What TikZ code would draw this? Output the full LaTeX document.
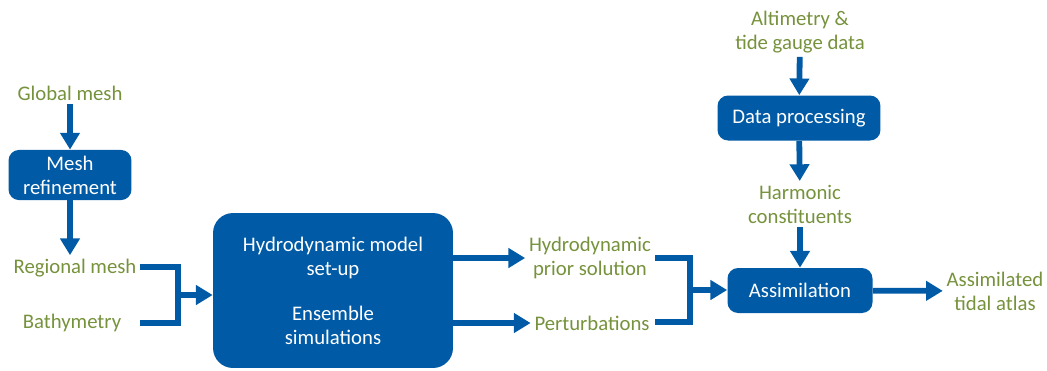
\documentclass[tikz,border=0pt]{standalone}
\usepackage{fontspec}
\setmainfont{Carlito}
\usetikzlibrary{positioning,arrows.meta}
\definecolor{boxblue}{RGB}{0,90,165}
\definecolor{txtgreen}{RGB}{118,146,60}

\begin{document}
\begin{tikzpicture}[x=0.02cm, y=-0.02cm,
    main/.style = {fill=boxblue, rounded corners=6pt, text=white, align=center, font=\fontsize{11.8}{13.6}\selectfont},
    lbl/.style = {text=txtgreen, align=center, inner sep=2pt, font=\fontsize{11.8}{13.6}\selectfont},
    link/.style = {draw=boxblue, line width=3.3pt},
    arr/.style = {link, -{Triangle[width=10.8pt, length=9.5pt]}}]
            \useasboundingbox (0,0) rectangle (1047,370);
            % left column
            \node[lbl] (global) at (70,93) {Global mesh};
            \node[main, minimum width=2.46cm, minimum height=1cm] (refine) at (70,175) {Mesh\\refinement};
            \node[lbl] (regional) at (75,268) {Regional mesh};
            \node[lbl] (bathy) at (72,323) {Bathymetry};
            \node[main, minimum width=4.8cm, minimum height=3.1cm, rounded corners=0.4cm] (model) at (333,290.5) {Hydrodynamic model\\set-up\\[12pt]Ensemble\\simulations};
            \draw[arr] (global) -- (refine);
            \draw[arr] (refine) -- (refine |- regional.north);
            \coordinate (r1) at (140,267);
            \coordinate (b1) at (140,323);
            \coordinate (j1) at (178,295);
            \draw[link] (r1) -| (j1) |- (b1);
            \draw[arr] (j1) -- (model.west |- j1);
            % middle
            \node[lbl] (prior) at (590,258) {Hydrodynamic\\prior solution};
            \node[lbl] (perturb) at (592,323) {Perturbations};
            \draw[arr] (model.east |- prior) -- (prior.west);
            \draw[arr] (model.east |- perturb) -- (perturb.west);
            % right column
            \node[lbl] (altim) at (800,32) {Altimetry \&\\tide gauge data};
            \node[main, minimum width=3.26cm, minimum height=0.9cm] (dataproc) at (799,118) {Data processing};
            \node[lbl] (harmonic) at (800,204) {Harmonic\\constituents};
            \node[main, minimum width=2.9cm, minimum height=0.9cm] (assim) at (800,290.5) {Assimilation};
            \node[lbl] (atlas) at (995,291) {Assimilated\\tidal atlas};
            \draw[arr] (altim) -- (dataproc);
            \draw[arr] (dataproc) -- (harmonic);
            \draw[arr] (harmonic) -- (assim);
            \coordinate (p1) at (655,258);
            \coordinate (p2) at (655,322);
            \coordinate (j2) at (690,290);
            \draw[link] (p1) -| (j2) |- (p2);
            \draw[arr] (j2) -- (assim.west |- j2);
            \draw[arr] (assim) -- (atlas);
        \end{tikzpicture}
\end{document}
